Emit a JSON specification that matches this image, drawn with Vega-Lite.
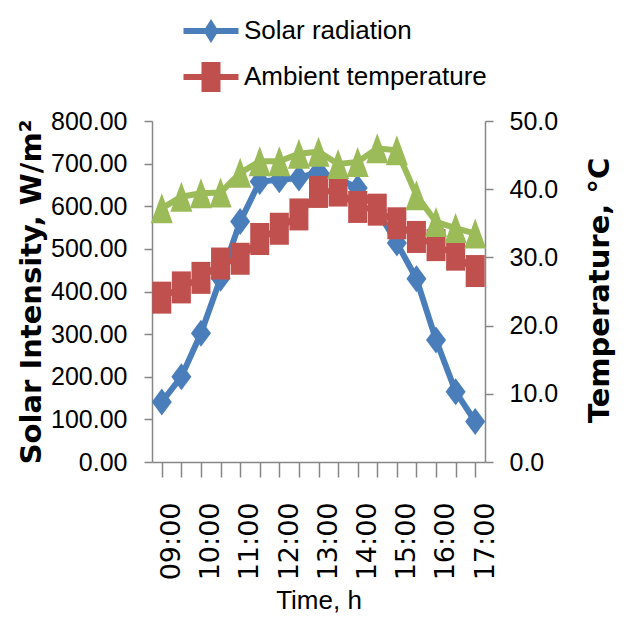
{
  "$schema": "https://vega.github.io/schema/vega-lite/v6.json",
  "width": 333,
  "height": 341,
  "autosize": "none",
  "padding": {"left": 152, "top": 121, "right": 149, "bottom": 165},
  "background": "white",
  "config": {
    "view": {"stroke": null},
    "axis": {"domainColor": "#868686", "tickColor": "#868686", "domainWidth": 1.5, "tickWidth": 1.5, "grid": false, "labelColor": "black", "titleColor": "black"}
  },
  "data": {
    "values": [
      {"time": "09:00", "solar": 141, "ambient": 24.1, "module": 37.2},
      {"time": "09:30", "solar": 200, "ambient": 25.6, "module": 38.9},
      {"time": "10:00", "solar": 302, "ambient": 27.0, "module": 39.4},
      {"time": "10:30", "solar": 431, "ambient": 29.1, "module": 39.5},
      {"time": "11:00", "solar": 564, "ambient": 29.8, "module": 42.4},
      {"time": "11:30", "solar": 658, "ambient": 32.7, "module": 44.1},
      {"time": "12:00", "solar": 662, "ambient": 34.2, "module": 44.1},
      {"time": "12:30", "solar": 666, "ambient": 36.3, "module": 45.2},
      {"time": "13:00", "solar": 681, "ambient": 39.6, "module": 45.5},
      {"time": "13:30", "solar": 665, "ambient": 39.8, "module": 43.7},
      {"time": "14:00", "solar": 643, "ambient": 37.4, "module": 44.0},
      {"time": "14:30", "solar": 590, "ambient": 37.0, "module": 46.0},
      {"time": "15:00", "solar": 514, "ambient": 35.0, "module": 45.7},
      {"time": "15:30", "solar": 430, "ambient": 33.0, "module": 39.1},
      {"time": "16:00", "solar": 286, "ambient": 31.8, "module": 35.2},
      {"time": "16:30", "solar": 165, "ambient": 30.4, "module": 34.3},
      {"time": "17:00", "solar": 95, "ambient": 28.0, "module": 33.5}
    ]
  },
  "layer": [
    {
      "encoding": {
        "x": {
          "field": "time", "type": "ordinal",
          "scale": {"paddingInner": 0, "paddingOuter": 0},
          "axis": {
            "orient": "bottom", "bandPosition": 0, "labelOffset": 9.8, "labelAngle": 270,
            "labelExpr": "indexof(datum.label, ':00') > 0 ? datum.label : ''",
            "labelFont": "DejaVu Sans", "labelFontSize": 27, "labelOverlap": false, "labelFlush": false,
            "tickSize": 15, "labelPadding": 25,
            "title": "Time, h", "titleFont": "Liberation Sans", "titleFontSize": 26, "titleFontWeight": "normal",
            "titleY": 146, "titleBaseline": "alphabetic"
          }
        },
        "y": {
          "field": "solar", "type": "quantitative",
          "scale": {"domain": [0, 800], "nice": false},
          "axis": {
            "orient": "left", "values": [0, 100, 200, 300, 400, 500, 600, 700, 800], "format": ".2f",
            "title": "Solar Intensity, W/m²", "titleFont": "DejaVu Sans", "titleFontWeight": "bold", "titleFontSize": 29, "titlePadding": 4,
            "labelFont": "Liberation Sans", "labelFontSize": 25, "tickSize": 8, "labelPadding": 17
          }
        }
      },
      "layer": [
        {"mark": {"type": "line", "color": "#4A7EBB", "strokeWidth": 6}},
        {"mark": {"type": "point", "shape": "M0,-1.35L1,0L0,1.35L-1,0Z", "size": 400, "filled": true, "opacity": 1, "color": "#4A7EBB", "strokeWidth": 0}}
      ]
    },
    {
      "transform": [{"fold": ["ambient", "module"], "as": ["series", "temp"]}],
      "encoding": {
        "x": {"field": "time", "type": "ordinal"},
        "y": {
          "field": "temp", "type": "quantitative",
          "scale": {"domain": [0, 50], "nice": false},
          "axis": {
            "orient": "right", "values": [0, 10, 20, 30, 40, 50], "format": ".1f",
            "title": "Temperature, °C", "titleAngle": 270, "titleFont": "DejaVu Sans", "titleFontWeight": "bold", "titleFontSize": 29,
            "titleX": 114, "titleY": 169, "titleAlign": "center", "titleBaseline": "middle",
            "labelFont": "Liberation Sans", "labelFontSize": 25, "tickSize": 8, "labelPadding": 16
          }
        },
        "color": {"field": "series", "type": "nominal", "scale": {"domain": ["ambient", "module"], "range": ["#C0504D", "#9BBB59"]}, "legend": null}
      },
      "layer": [
        {"mark": {"type": "line", "strokeWidth": 6}},
        {
          "mark": {"type": "point", "size": 400, "filled": true, "opacity": 1, "strokeWidth": 0},
          "encoding": {
            "shape": {"field": "series", "type": "nominal", "scale": {"domain": ["ambient", "module"], "range": ["M-0.95,-1.6H0.95V1.6H-0.95Z", "M0,-1.5L1.1,1.5L-1.1,1.5Z"]}, "legend": null}
          }
        }
      ]
    },
    {
      "data": {"values": []},
      "mark": {"type": "point", "size": 400, "filled": true, "opacity": 1, "strokeWidth": 0},
      "encoding": {
        "color": {
          "field": "series", "type": "nominal",
          "scale": {"domain": ["Solar radiation", "Ambient temperature"], "range": ["#4A7EBB", "#C0504D"]},
          "legend": {"title": null, "orient": "none", "legendX": 46, "legendY": -103, "direction": "vertical", "padding": 0,
            "labelFont": "Liberation Sans", "labelFontSize": 26, "labelColor": "black", "labelLimit": 400, "labelOffset": 20,
            "symbolSize": 400, "symbolStrokeWidth": 0, "rowPadding": 18}
        },
        "shape": {
          "field": "series", "type": "nominal",
          "scale": {"domain": ["Solar radiation", "Ambient temperature"], "range": ["M-2.75,-0.3H2.75V0.3H-2.75Z M0,-1.2L0.75,0L0,1.2L-0.75,0Z", "M-2.75,-0.3H2.75V0.3H-2.75Z M-0.95,-1.5H0.95V1.5H-0.95Z"]},
          "legend": {"title": null, "orient": "none", "legendX": 46, "legendY": -103, "direction": "vertical", "padding": 0,
            "labelFont": "Liberation Sans", "labelFontSize": 26, "labelColor": "black", "labelLimit": 400, "labelOffset": 20,
            "symbolSize": 400, "symbolStrokeWidth": 0, "rowPadding": 18}
        }
      }
    }
  ],
  "resolve": {"scale": {"y": "independent", "color": "independent", "shape": "independent"}}
}
